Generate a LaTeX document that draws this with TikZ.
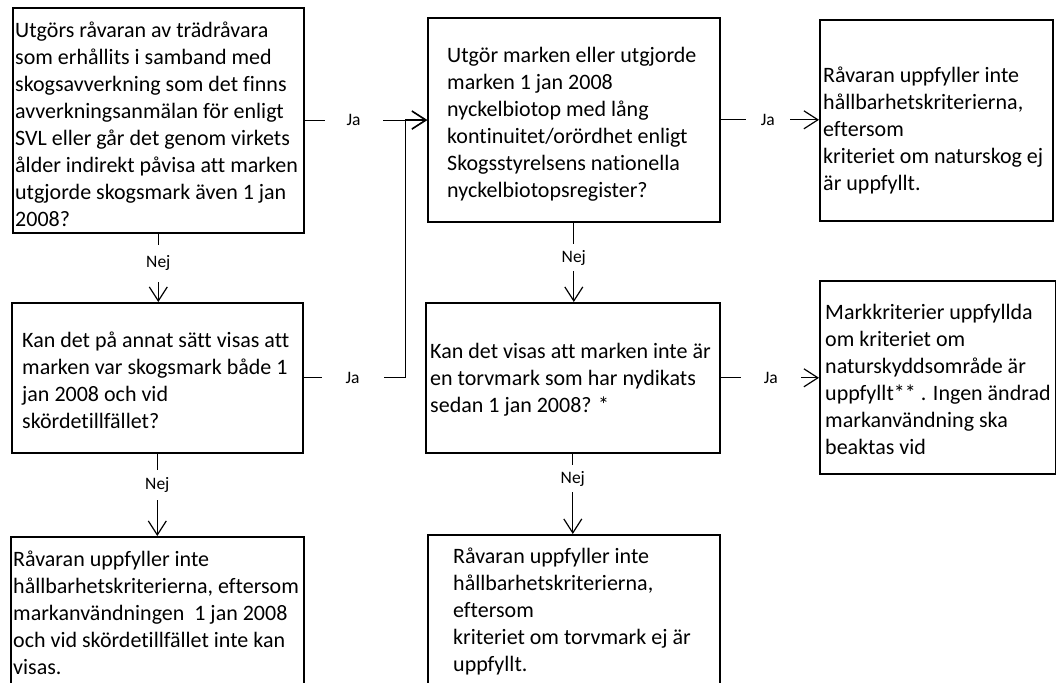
\documentclass[tikz,border=0pt]{standalone}
\usepackage{fontspec}
\setmainfont{Carlito}[Ligatures={NoCommon}]
\usetikzlibrary{arrows.meta}
\tikzset{
  bx/.style={draw=black, line width=1.6pt, fill=white, inner sep=0pt, anchor=north west},
  txt/.style={inner sep=0pt, align=left, anchor=west, font=\fontsize{22}{27}\selectfont},
  con/.style={line width=1.2pt, -{Straight Barb[length=14pt,width=18pt,line width=1.2pt]}},
  lab/.style={fill=white, inner xsep=2pt, inner ysep=8pt, font=\fontsize{17.5}{19}\selectfont},
}
\begin{document}
\begin{tikzpicture}[x=1pt,y=-1pt]
\useasboundingbox (0,0) rectangle (1056,682);
\clip (0,0) rectangle (1056,682);
\fill[white] (0,0) rectangle (1056,682);
% boxes
\node[bx, minimum width=291pt, minimum height=225pt] (A) at (12,7) {};
\node[bx, minimum width=291pt, minimum height=150pt] (B) at (11,302) {};
\node[bx, minimum width=293pt, minimum height=152pt] (C) at (10,536) {};
\node[bx, minimum width=292pt, minimum height=204pt] (D) at (427,17) {};
\node[bx, minimum width=294pt, minimum height=150pt] (E) at (425,302) {};
\node[bx, minimum width=292pt, minimum height=154pt] (F) at (427,534) {};
\node[bx, minimum width=233pt, minimum height=201pt] (G) at (819,19) {};
\node[bx, minimum width=236pt, minimum height=193pt] (H) at (819,280) {};
% texts
\node[txt] (tA) at ([shift={(3,4)}]A.west) {Utgörs råvaran av trädråvara\\som erhållits i samband med\\skogsavverkning som det finns\\avverkningsanmälan för enligt\\SVL eller går det genom virkets\\ålder indirekt påvisa att marken\\utgjorde skogsmark även 1 jan\\2008?};
\node[txt] (tB) at ([shift={(11,2)}]B.west) {Kan det på annat sätt visas att\\marken var skogsmark både 1\\jan 2008 och vid\\skördetillfället?};
\node[txt] (tC) at ([shift={(3,0)}]C.west) {Råvaran uppfyller inte\\hållbarhetskriterierna, eftersom\\markanvändningen \ 1 jan 2008\\och vid skördetillfället inte kan\\visas.};
\node[txt] (tD) at ([shift={(20,4)}]D.west) {Utgör marken eller utgjorde\\marken 1 jan 2008\\nyckelbiotop med lång\\kontinuitet/orördhet enligt\\Skogsstyrelsens nationella\\nyckelbiotopsregister?};
\node[txt] (tE) at ([shift={(5,2)}]E.west) {Kan det visas att marken inte är\\en torvmark som har nydikats\\sedan 1 jan 2008? *};
\node[txt] (tF) at ([shift={(26,0)}]F.west) {Råvaran uppfyller inte\\hållbarhetskriterierna,\\eftersom\\kriteriet om torvmark ej är\\uppfyllt.};
\node[txt] (tG) at ([shift={(4,10)}]G.west) {Råvaran uppfyller inte\\hållbarhetskriterierna,\\eftersom\\kriteriet om naturskog ej\\är uppfyllt.};
\node[txt] (tH) at ([shift={(6,2)}]H.west) {Markkriterier uppfyllda\\om kriteriet om\\naturskyddsområde är\\uppfyllt** . Ingen ändrad\\markanvändning ska\\beaktas vid};
% connectors
\draw[con] (A.east) -- node[lab, pos=0.40, inner xsep=22pt]{Ja} (A.east -| D.west);
\draw[con] (B.east) -- node[lab, pos=0.48, inner xsep=24pt]{Ja} ++(102,0) |- (D.west);
\draw[con] (D.east) -- node[lab, pos=0.48, inner xsep=15pt]{Ja} (D.east -| G.west);
\draw[con] (E.east) -- node[lab, pos=0.51, inner xsep=23pt]{Ja} (E.east -| H.west);
\draw[con] (A.south) -- node[lab, pos=0.436, inner ysep=11pt]{Nej} (A.south |- B.north);
\draw[con] (B.south) -- node[lab, pos=0.38, inner ysep=7.5pt]{Nej} (B.south |- C.north);
\draw[con] (D.south) -- node[lab, pos=0.44, inner ysep=6pt]{Nej} (D.south |- E.north);
\draw[con] (E.south) -- node[lab, pos=0.31, inner ysep=6pt]{Nej} (E.south |- F.north);
\end{tikzpicture}
\end{document}
